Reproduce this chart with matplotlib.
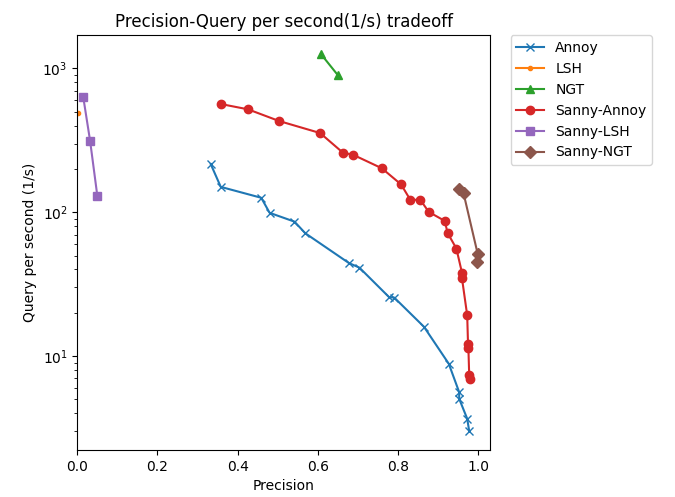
import matplotlib
matplotlib.use("Agg")
import matplotlib.pyplot as plt

# precision / queries-per-second pairs
annoy_prec = [0.333, 0.358, 0.459, 0.480, 0.542, 0.569, 0.678, 0.704, 0.778, 0.791,
              0.865, 0.927, 0.953, 0.953, 0.973, 0.978]
annoy_qps = [216, 150, 126, 99, 86, 71.4, 44.3, 41.2, 25.7, 25.5,
             16.0, 8.85, 5.61, 5.05, 3.67, 3.01]

lsh_prec = [0.003]
lsh_qps = [491]

ngt_prec = [0.608, 0.650]
ngt_qps = [1257, 898]

sanny_annoy_prec = [0.358, 0.426, 0.504, 0.606, 0.663, 0.688, 0.760, 0.808, 0.831, 0.856,
                    0.877, 0.917, 0.924, 0.946, 0.960, 0.960, 0.973, 0.975, 0.976, 0.978, 0.981]
sanny_annoy_qps = [565, 519, 430, 355, 259, 251, 202, 156, 122, 122,
                   100.5, 87, 71.8, 55.9, 37.9, 34.7, 19.2, 12.2, 11.3, 7.34, 6.96]

sanny_lsh_prec = [0.015, 0.032, 0.050]
sanny_lsh_qps = [628, 313, 130]

sanny_ngt_prec = [0.952, 0.964, 0.999, 0.998]
sanny_ngt_qps = [146, 135, 51.6, 45.1]

fig = plt.figure(figsize=(6.75, 4.97), dpi=100)
ax = fig.add_axes([0.1145, 0.0946, 0.6115, 0.8346])

ax.plot(annoy_prec, annoy_qps, marker="x", label="Annoy")
ax.plot(lsh_prec, lsh_qps, marker=".", label="LSH")
ax.plot(ngt_prec, ngt_qps, marker="^", label="NGT")
ax.plot(sanny_annoy_prec, sanny_annoy_qps, marker="o", label="Sanny-Annoy")
ax.plot(sanny_lsh_prec, sanny_lsh_qps, marker="s", label="Sanny-LSH")
ax.plot(sanny_ngt_prec, sanny_ngt_qps, marker="D", label="Sanny-NGT")

ax.set_yscale("log")
ax.set_xlim(0, 1.03)
ax.set_xlabel("Precision")
ax.set_ylabel("Query per second (1/s)")
ax.set_title("Precision-Query per second(1/s) tradeoff")
ax.legend(bbox_to_anchor=(1.05, 1), loc="upper left", borderaxespad=0)

fig.savefig("out.png", dpi=100)
